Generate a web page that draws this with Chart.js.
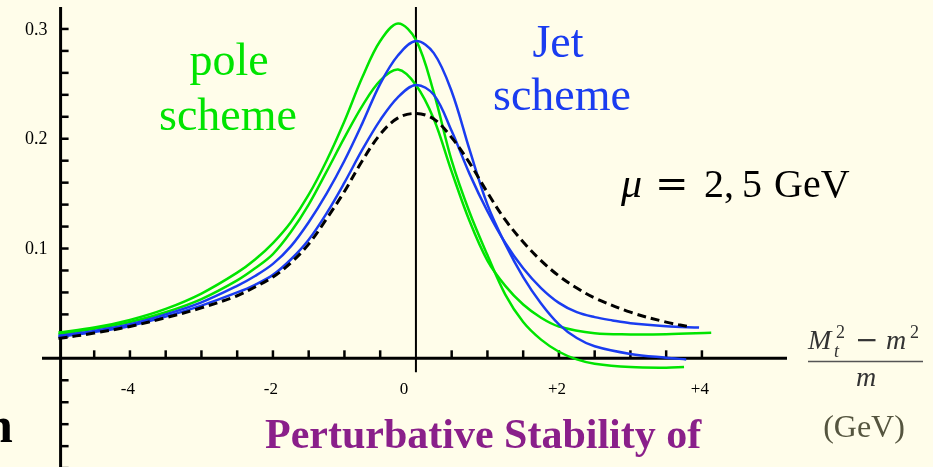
<!DOCTYPE html>
<html>
<head>
<meta charset="utf-8">
<script src="https://cdn.jsdelivr.net/npm/chart.js@4.4.1/dist/chart.umd.min.js"></script>
<style>
  html, body { margin: 0; padding: 0; background: #fffdea; }
  #caja { position: relative; width: 933px; height: 467px; }
</style>
</head>
<body>
<div id="caja"><canvas id="grafico" width="933" height="467"></canvas></div>
<script>
// Datos: eje x = (M_t^2 - m^2)/m en GeV
const polo1X = [-5, -4.5, -4, -3.5, -3, -2.5, -2.25, -2, -1.75, -1.5, -1.25, -1, -0.75, -0.5, -0.25, 0, 0.25, 0.5, 0.75, 1, 1.25, 1.5, 1.75, 2, 2.25, 2.5, 3, 3.5, 3.75];
const polo1Y = [0.0235, 0.028, 0.035, 0.045, 0.059, 0.078, 0.09, 0.105, 0.124, 0.149, 0.18, 0.216, 0.256, 0.289, 0.305, 0.29, 0.242, 0.18, 0.133, 0.094, 0.058, 0.033, 0.017, 0.006, -0.001, -0.005, -0.008, -0.0085, -0.008];

const polo2X = [-5, -4.5, -4, -3.5, -3, -2.5, -2.25, -2, -1.75, -1.5, -1.25, -1, -0.75, -0.5, -0.25, 0, 0.25, 0.5, 0.75, 1, 1.25, 1.5, 1.75, 2, 2.5, 3, 3.5, 4.13];
const polo2Y = [0.022, 0.027, 0.033, 0.042, 0.054, 0.071, 0.082, 0.095, 0.115, 0.14, 0.17, 0.201, 0.23, 0.253, 0.263, 0.249, 0.218, 0.17, 0.125, 0.089, 0.066, 0.049, 0.037, 0.029, 0.0228, 0.0218, 0.022, 0.0233];

const jet1X = [-5, -4.5, -4, -3.5, -3, -2.5, -2.25, -2, -1.75, -1.5, -1.25, -1, -0.75, -0.5, -0.25, 0, 0.25, 0.5, 0.75, 1, 1.25, 1.5, 1.75, 2, 2.25, 2.5, 3, 3.5, 3.78];
const jet1Y = [0.0205, 0.025, 0.031, 0.04, 0.051, 0.066, 0.075, 0.086, 0.102, 0.124, 0.15, 0.18, 0.214, 0.25, 0.276, 0.289, 0.278, 0.243, 0.19, 0.14, 0.104, 0.074, 0.05, 0.031, 0.0185, 0.011, 0.004, 0.0005, -0.001];

const jet2X = [-5, -4.5, -4, -3.5, -3, -2.5, -2.25, -2, -1.75, -1.5, -1.25, -1, -0.75, -0.5, -0.25, 0, 0.25, 0.5, 0.75, 1, 1.25, 1.5, 1.75, 2, 2.25, 2.5, 2.75, 3, 3.5, 3.96];
const jet2Y = [0.0195, 0.024, 0.0295, 0.038, 0.048, 0.06, 0.067, 0.076, 0.09, 0.108, 0.132, 0.16, 0.19, 0.217, 0.238, 0.249, 0.24, 0.207, 0.168, 0.134, 0.105, 0.082, 0.064, 0.0505, 0.042, 0.0375, 0.0345, 0.032, 0.0293, 0.028];

const refX = [-5, -4.5, -4, -3.5, -3, -2.5, -2.25, -2, -1.75, -1.5, -1.25, -1, -0.75, -0.5, -0.25, 0, 0.25, 0.5, 0.75, 1, 1.25, 1.5, 1.75, 2, 2.25, 2.5, 3, 3.5, 3.8];
const refY = [0.018, 0.023, 0.029, 0.037, 0.046, 0.057, 0.065, 0.074, 0.087, 0.104, 0.127, 0.152, 0.18, 0.204, 0.219, 0.223, 0.218, 0.201, 0.178, 0.151, 0.126, 0.106, 0.089, 0.075, 0.064, 0.055, 0.042, 0.033, 0.029];

// Marcas de los ejes
const xTicks = [-4.5, -4, -3.5, -3, -2.5, -2, -1.5, -1, -0.5, 0.5, 1, 1.5, 2, 2.5, 3, 3.5, 4];
const xLabelVals = [-4, -2, 0, 2, 4];
const xLabelText = ['-4', '-2', '0', '+2', '+4'];
const yTicks = [-0.1, -0.08, -0.06, -0.04, -0.02, 0.02, 0.04, 0.06, 0.08, 0.1, 0.12, 0.14, 0.16, 0.18, 0.2, 0.22, 0.24, 0.26, 0.28, 0.3];
const yLabelVals = [0.1, 0.2, 0.3];
const yLabelText = ['0.1', '0.2', '0.3'];
const yAxisAt = -4.97;

// Convertir pares x/y en puntos
const puntos = (xs, ys) => xs.map((x, i) => ({ x: x, y: ys[i] }));

const VERDE = '#00e400';
const AZUL = '#1a3cf0';
const serif = '"Liberation Serif", "DejaVu Serif", serif';

// Plugin para pintar los ejes y los textos
const ejesPlugin = {
    id: 'ejes',
    beforeDatasetsDraw(chart) {
        const ctx = chart.ctx;
        const sx = chart.scales.x;
        const sy = chart.scales.y;
        const area = chart.chartArea;
        const y0 = sy.getPixelForValue(0);
        const xa = sx.getPixelForValue(yAxisAt);
        ctx.save();
        ctx.strokeStyle = '#000';
        ctx.lineWidth = 3;
        // eje x
        ctx.beginPath();
        ctx.moveTo(area.left, y0);
        ctx.lineTo(area.right, y0);
        ctx.stroke();
        // eje y (izquierda)
        ctx.beginPath();
        ctx.moveTo(xa, area.top);
        ctx.lineTo(xa, area.bottom);
        ctx.stroke();
        // marcas del eje x (hacia arriba)
        ctx.lineWidth = 2.5;
        xTicks.forEach(v => {
            const px = sx.getPixelForValue(v);
            ctx.beginPath();
            ctx.moveTo(px, y0);
            ctx.lineTo(px, y0 - 8);
            ctx.stroke();
        });
        // marcas del eje y (hacia la derecha)
        yTicks.forEach(v => {
            const py = sy.getPixelForValue(v);
            ctx.beginPath();
            ctx.moveTo(xa, py);
            ctx.lineTo(xa + 8, py);
            ctx.stroke();
        });
        // línea vertical en x = 0
        const xc = sx.getPixelForValue(0);
        ctx.lineWidth = 2;
        ctx.beginPath();
        ctx.moveTo(xc, area.top);
        ctx.lineTo(xc, y0 + 14);
        ctx.stroke();

        // etiquetas
        ctx.fillStyle = '#000';
        ctx.font = '18px ' + serif;
        ctx.textAlign = 'right';
        ctx.textBaseline = 'middle';
        yLabelVals.forEach((v, i) => {
            ctx.fillText(yLabelText[i], xa - 13, sy.getPixelForValue(v) + 1);
        });
        ctx.font = '17px ' + serif;
        ctx.textAlign = 'center';
        ctx.textBaseline = 'alphabetic';
        xLabelVals.forEach((v, i) => {
            const dx = v === 0 ? -12 : -2;
            ctx.fillText(xLabelText[i], sx.getPixelForValue(v) + dx, y0 + 36);
        });
        ctx.restore();
    },
    afterDraw(chart) {
        const ctx = chart.ctx;
        ctx.save();
        ctx.textBaseline = 'alphabetic';
        ctx.textAlign = 'center';

        // textos de esquema
        ctx.font = '46px ' + serif;
        ctx.fillStyle = VERDE;
        ctx.fillText('pole', 229, 75);
        ctx.fillText('scheme', 228, 130);
        ctx.fillStyle = AZUL;
        ctx.fillText('Jet', 558, 57);
        ctx.fillText('scheme', 562, 110);

        // mu = 2, 5 GeV
        ctx.fillStyle = '#000';
        ctx.textAlign = 'left';
        ctx.font = 'italic 42px ' + serif;
        ctx.fillText('μ', 621, 197);
        ctx.font = '40px "DejaVu Serif", serif';
        ctx.fillText('=', 655, 197);
        ctx.font = '40px ' + serif;
        ctx.fillText('2,', 704, 197);
        ctx.fillText('5', 742, 197);
        ctx.fillText('GeV', 774, 197);

        // etiqueta del eje x (fracción)
        ctx.fillStyle = '#333';
        ctx.font = 'italic 28px ' + serif;
        ctx.fillText('M', 808, 349);
        ctx.font = 'italic 18px ' + serif;
        ctx.fillText('t', 834, 357);
        ctx.font = '18px ' + serif;
        ctx.fillText('2', 836, 338);
        ctx.font = '28px "DejaVu Serif", serif';
        ctx.fillText('−', 855, 349);
        ctx.font = 'italic 28px ' + serif;
        ctx.fillText('m', 886, 349);
        ctx.font = '18px ' + serif;
        ctx.fillText('2', 910, 338);
        ctx.strokeStyle = '#555';
        ctx.lineWidth = 1.5;
        ctx.beginPath();
        ctx.moveTo(808, 361.5);
        ctx.lineTo(923, 361.5);
        ctx.stroke();
        ctx.textAlign = 'center';
        ctx.font = 'italic 28px ' + serif;
        ctx.fillText('m', 866, 386);
        ctx.fillStyle = '#55553f';
        ctx.font = '32px ' + serif;
        ctx.fillText('(GeV)', 864, 437);

        // texto inferior
        ctx.textAlign = 'left';
        ctx.fillStyle = '#8a1f8a';
        ctx.font = 'bold 42px ' + serif;
        ctx.fillText('Perturbative Stability of', 265, 448);
        ctx.fillStyle = '#000';
        ctx.font = 'bold 50px ' + serif;
        ctx.fillText('n', -15, 442);
        ctx.restore();
    }
};

const curva = (xs, ys, color, orden, guiones) => ({
    data: puntos(xs, ys),
    borderColor: color,
    borderWidth: guiones ? 3 : 2.5,
    borderDash: guiones ? [9, 5] : [],
    pointRadius: 0,
    fill: false,
    tension: 0.35,
    order: orden
});

const renderChart = () => {
    const ctx = document.getElementById('grafico').getContext('2d');
    new Chart(ctx, {
        type: 'line',
        data: {
            datasets: [
                curva(refX, refY, '#000', 0, true),
                curva(jet1X, jet1Y, AZUL, 1, false),
                curva(jet2X, jet2Y, AZUL, 1, false),
                curva(polo1X, polo1Y, VERDE, 2, false),
                curva(polo2X, polo2Y, VERDE, 2, false)
            ]
        },
        options: {
            responsive: false,
            animation: false,
            layout: { padding: { left: 42, right: 146, top: 7, bottom: 0 } },
            scales: {
                x: { type: 'linear', min: -5.23, max: 5.19, display: false },
                y: { type: 'linear', min: -0.099, max: 0.32, display: false }
            },
            plugins: {
                legend: { display: false },
                tooltip: { enabled: false }
            }
        },
        plugins: [ejesPlugin]
    });
};

renderChart();
</script>
</body>
</html>
